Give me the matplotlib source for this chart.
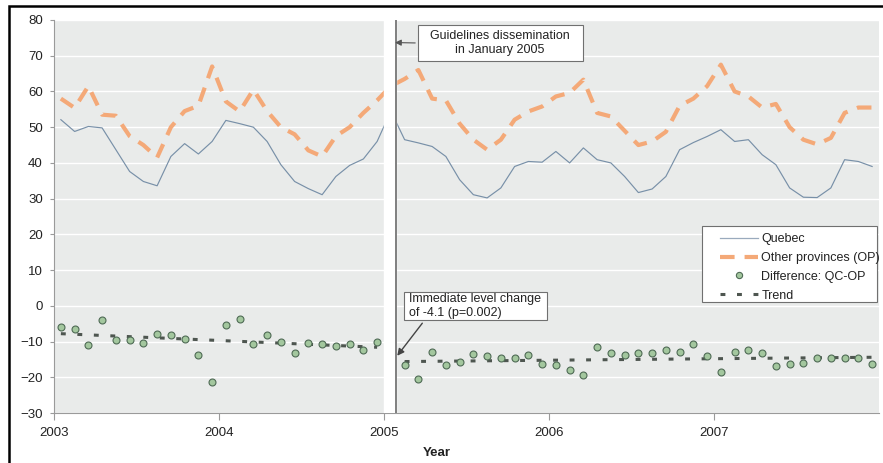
import numpy as np
import matplotlib.pyplot as plt
from matplotlib.patches import Rectangle
from matplotlib.lines import Line2D

plt.rcParams['font.family'] = ['Liberation Sans', 'DejaVu Sans']

# monthly series, Jan 2003 .. Dec 2007
quebec = [52.1, 48.8, 50.2, 49.8, 43.7, 37.6, 34.8, 33.6, 41.8, 45.4, 42.5, 46.0,
          51.9, 51.0, 50.0, 46.0, 39.5, 34.8, 32.8, 31.1, 36.2, 39.3, 41.1, 46.0,
          54.5, 46.5, 45.6, 44.6, 41.8, 35.3, 31.1, 30.2, 33.0, 39.0, 40.4, 40.2,
          43.2, 40.0, 44.2, 40.9, 40.0, 36.2, 31.7, 32.7, 36.2, 43.7, 45.7, 47.4,
          49.3, 46.0, 46.5, 42.3, 39.5, 33.0, 30.4, 30.3, 33.0, 40.9, 40.4, 39.0]
other_prov = [58.0, 55.4, 61.5, 53.5, 53.2, 47.5, 45.0, 41.5, 50.0, 54.5, 56.0, 67.0,
              57.2, 54.4, 60.5, 54.5, 50.0, 48.0, 43.5, 41.8, 47.5, 50.0, 54.0, 57.5,
              61.5, 63.5, 66.0, 58.0, 57.5, 51.0, 46.5, 43.7, 46.5, 52.1, 54.4, 55.8,
              58.6, 59.6, 63.3, 54.0, 53.0, 49.0, 45.0, 46.0, 48.7, 56.0, 58.0, 61.5,
              67.5, 60.0, 58.6, 55.5, 56.5, 50.0, 46.5, 45.2, 47.0, 54.0, 55.5, 55.5]
difference = [-6.0, -6.5, -11.1, -3.9, -9.5, -9.7, -10.5, -7.9, -8.3, -9.2, -13.7, -21.2,
              -5.3, -3.6, -10.7, -8.1, -10.2, -13.2, -10.3, -10.7, -11.2, -10.7, -12.3, -10.2,
              np.nan, -16.5, -20.5, -13.0, -16.5, -15.6, -13.4, -14.0, -14.7, -14.7, -13.7, -16.3,
              -16.5, -18.1, -19.5, -11.4, -13.3, -13.7, -13.3, -13.3, -12.5, -12.8, -10.7, -14.0,
              -18.4, -13.0, -12.3, -13.1, -16.8, -16.2, -16.1, -14.5, -14.5, -14.7, -14.7, -16.2]
trend_pre = [-7.8, -11.6]    # Jan 2003 -> Dec 2004
trend_post = [-15.6, -14.4]  # Feb 2005 -> Dec 2007

t = 2003 + (np.arange(60) + 0.5) / 12
intervention = 2005.07

W, H = 883, 463
fig = plt.figure(figsize=(W / 100, H / 100), dpi=100)
ax = fig.add_axes([54 / W, 1 - 413 / H, 825 / W, 393 / H])
ax.set_facecolor('#e9ebea')

qc_color = '#7890a8'
op_color = '#f4a978'
op_style = (0, (3.5, 2.4))
trend_color = '#4e5650'
trend_style = (0, (1.6, 3.8))

ax.plot(t, quebec, color=qc_color, lw=0.85, zorder=2)
ax.plot(t, other_prov, color=op_color, lw=3, linestyle=op_style, zorder=2)
ax.plot(t, difference, linestyle='none', marker='o', ms=5, mfc='#a3c79e', mec='#4f6b55',
        mew=0.8, zorder=2.5)
ax.plot([t[0], t[23]], trend_pre, color=trend_color, lw=2.2, linestyle=trend_style, zorder=2.4)
ax.plot([t[25], t[59]], trend_post, color=trend_color, lw=2.2, linestyle=trend_style, zorder=2.4)

# intervention gap
ax.axvspan(2005.0, intervention, color='white', zorder=3)
ax.axvline(intervention, color='#6a6a6a', lw=1.2, zorder=3.5)

ax.set_xlim(2003, 2008)
ax.set_ylim(-30, 80)
ax.set_xticks([2003, 2004, 2005, 2006, 2007])
ax.set_yticks(np.arange(-30, 81, 10))
ax.grid(axis='y', color='white', lw=1, zorder=0.5)
ax.set_axisbelow(True)
for s in ['top', 'right']:
    ax.spines[s].set_visible(False)
for s in ['left', 'bottom']:
    ax.spines[s].set_color('#9a9a9a')
ax.tick_params(axis='y', length=3, pad=5, color='#9a9a9a', labelsize=9.5, labelcolor='#222222')
ax.tick_params(axis='x', length=5, pad=5, color='#9a9a9a', labelsize=9.5, labelcolor='#222222')

fig.text(437 / W, 1 - 453 / H, 'Year', ha='center', va='center', fontsize=9.5,
         fontweight='bold', color='#222222')


def px_box(x0, y0, x1, y1, z=5):
    r = Rectangle((x0 / W, 1 - y1 / H), (x1 - x0) / W, (y1 - y0) / H, transform=fig.transFigure,
                  facecolor='white', edgecolor='#707070', lw=0.8, zorder=z)
    fig.add_artist(r)


# annotation boxes
px_box(418, 25, 583, 61)
fig.text(500 / W, 1 - 43 / H, 'Guidelines dissemination\nin January 2005', ha='center',
         va='center', fontsize=9, color='#222222', zorder=6, linespacing=1.15)
ax.annotate('', xy=(2005.05, 73.7), xycoords='data', xytext=(418, H - 43),
            textcoords='figure pixels',
            arrowprops=dict(arrowstyle='-|>', color='#555555', lw=0.8, mutation_scale=9),
            zorder=6)

px_box(404, 292, 547, 320)
fig.text(409 / W, 1 - 306 / H, 'Immediate level change\nof -4.1 (p=0.002)', ha='left',
         va='center', fontsize=9, color='#222222', zorder=6, linespacing=1.15)
ax.annotate('', xy=(2005.07, -14.6), xycoords='data', xytext=(424, H - 321),
            textcoords='figure pixels',
            arrowprops=dict(arrowstyle='-|>', color='#444444', lw=1.0, mutation_scale=10),
            zorder=6)

# legend
px_box(702, 226, 877, 302)
handles = [
    Line2D([], [], color='#9aaabd', lw=0.9),
    Line2D([], [], color=op_color, lw=3, linestyle=op_style),
    Line2D([], [], linestyle='none', marker='o', ms=4.5, mfc='#a3c79e', mec='#4f6b55', mew=0.8),
    Line2D([], [], color=trend_color, lw=2.2, linestyle=trend_style),
]
labels = ['Quebec', 'Other provinces (OP)', 'Difference: QC-OP', 'Trend']
leg = fig.legend(handles, labels, loc='upper left', bbox_to_anchor=(720 / W, 1 - 233 / H),
                 bbox_transform=fig.transFigure, frameon=False, fontsize=9, borderpad=0,
                 borderaxespad=0, handlelength=3.0, handletextpad=0.3, labelspacing=0.55)
for txt in leg.get_texts():
    txt.set_color('#222222')
leg.set_zorder(7)

# outer frame
fig.add_artist(Rectangle((9 / W, -0.1), 1.2, 1.1 - 6 / H, transform=fig.transFigure,
                         facecolor='none', edgecolor='black', lw=1.8, clip_on=False))

fig.savefig('out.png', dpi=100)
